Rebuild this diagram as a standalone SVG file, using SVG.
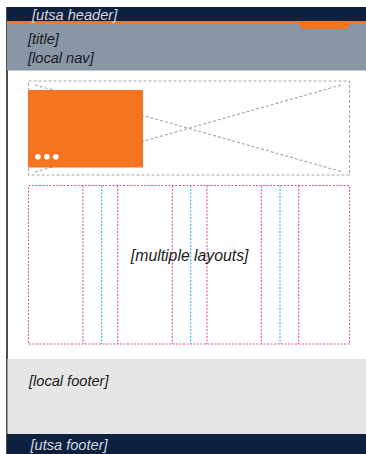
<svg xmlns="http://www.w3.org/2000/svg" width="366" height="454" viewBox="0 0 366 454">
  <style>
    .lbl { font-family: "Liberation Sans", Arial, sans-serif; font-style: italic; font-size: 14.6px; }
    .light { fill: #d3d9e2; }
    .dark { fill: #1a1a1a; }
    .wire { fill: none; stroke: #a6a6a6; stroke-width: 1.1; stroke-dasharray: 3 2; }
    .col { fill: none; stroke: #e8519e; stroke-width: 1.1; stroke-dasharray: 2 1.5; }
    .gut { fill: none; stroke: #3fb0e3; stroke-width: 1.1; stroke-dasharray: 2 1.5; }
  </style>

  <rect x="0" y="0" width="366" height="454" fill="#ffffff"/>

  <!-- page frame: left edge rule -->
  <line x1="7" y1="7" x2="7" y2="454" stroke="#111111" stroke-width="1.5"/>

  <!-- global header -->
  <g id="utsa-header">
    <rect x="7" y="7" width="359" height="14.5" fill="#0d203f"/>
    <rect x="7" y="21" width="359" height="2" fill="#f47421"/>
    <text class="lbl light" x="32" y="19.5">[utsa header]</text>
  </g>

  <!-- title / local navigation band -->
  <g id="title-nav">
    <rect x="7" y="23" width="359" height="47.5" fill="#8896a6"/>
    <polygon points="298,23 351,23 347,29 302,29" fill="#f47421"/>
    <text class="lbl dark" x="28" y="44">[title]</text>
    <text class="lbl dark" x="28" y="63">[local nav]</text>
  </g>

  <!-- hero image placeholder -->
  <g id="hero">
    <rect class="wire" x="28.5" y="81" width="321" height="94"/>
    <line class="wire" x1="35" y1="85" x2="343" y2="172"/>
    <line class="wire" x1="35" y1="172" x2="343" y2="84.5"/>
    <rect x="28" y="90" width="115" height="77.5" fill="#f47421"/>
    <circle cx="38" cy="156.7" r="2.8" fill="#ffffff"/>
    <circle cx="46.8" cy="156.7" r="2.8" fill="#ffffff"/>
    <circle cx="55.8" cy="156.7" r="2.8" fill="#ffffff"/>
  </g>

  <!-- column grid -->
  <g id="layouts">
    <rect class="col" x="28.5" y="185.5" width="321" height="158.5"/>
    <line class="col" x1="83" y1="185.5" x2="83" y2="344"/>
    <line class="col" x1="117.7" y1="185.5" x2="117.7" y2="344"/>
    <line class="col" x1="172.3" y1="185.5" x2="172.3" y2="344"/>
    <line class="col" x1="207" y1="185.5" x2="207" y2="344"/>
    <line class="col" x1="261.3" y1="185.5" x2="261.3" y2="344"/>
    <line class="col" x1="298.7" y1="185.5" x2="298.7" y2="344"/>
    <line class="gut" x1="101.7" y1="185.5" x2="101.7" y2="344"/>
    <line class="gut" x1="190.7" y1="185.5" x2="190.7" y2="344"/>
    <line class="gut" x1="280" y1="185.5" x2="280" y2="344"/>
    <text class="lbl dark" x="189.7" y="260.5" text-anchor="middle" style="font-size:15.8px">[multiple layouts]</text>
  </g>

  <!-- local footer -->
  <g id="local-footer">
    <rect x="7.5" y="359" width="358.5" height="75" fill="#e6e6e6"/>
    <text class="lbl dark" x="29" y="385.5">[local footer]</text>
  </g>

  <!-- global footer -->
  <g id="utsa-footer">
    <rect x="7" y="434" width="359" height="20" fill="#0d203f"/>
    <text class="lbl light" x="30.5" y="449.5">[utsa footer]</text>
  </g>
</svg>
